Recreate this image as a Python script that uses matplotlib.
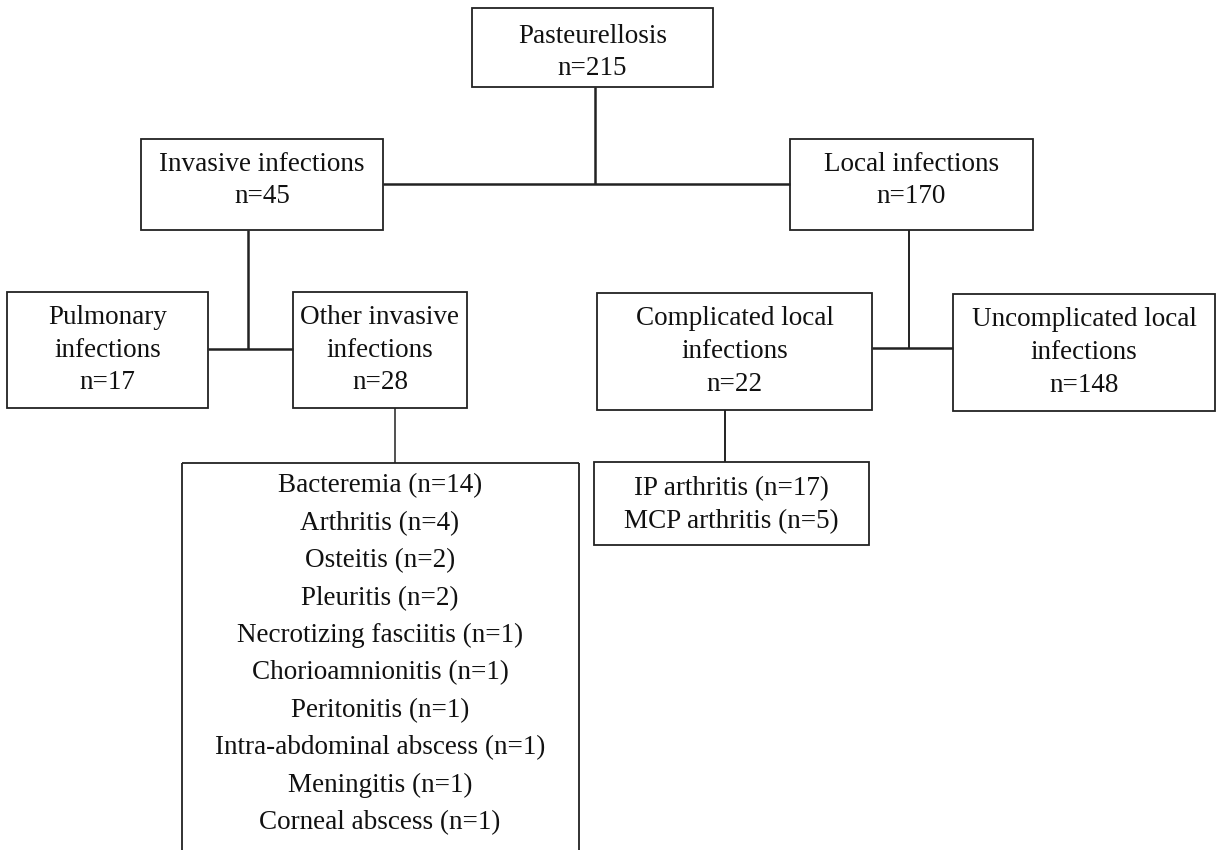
import matplotlib.pyplot as plt
from matplotlib.patches import Rectangle

plt.rcParams['font.family'] = ['Liberation Serif', 'DejaVu Serif']

# node names and counts
node_names = ["Pasteurellosis", "Invasive infections", "Local infections",
              "Pulmonary\ninfections", "Other invasive\ninfections",
              "Complicated local\ninfections", "Uncomplicated local\ninfections"]
node_counts = [215, 45, 170, 17, 28, 22, 148]

# detail lists
invasive_items = ["Bacteremia", "Arthritis", "Osteitis", "Pleuritis",
                  "Necrotizing fasciitis", "Chorioamnionitis", "Peritonitis",
                  "Intra-abdominal abscess", "Meningitis", "Corneal abscess"]
invasive_counts = [14, 4, 2, 2, 1, 1, 1, 1, 1, 1]
local_items = ["IP arthritis", "MCP arthritis"]
local_counts = [17, 5]

# box layout in pixels (x0, y0, x1, y1), y downwards; last value = text offset
boxes = [(472, 8, 713, 87, 5), (141, 139, 383, 230, -4), (790, 139, 1033, 230, -4),
         (7, 292, 208, 408, 0), (293, 292, 467, 408, 0),
         (597, 293, 872, 410, 0), (953, 294, 1215, 411, 0)]

fig = plt.figure(figsize=(12.22, 8.5), dpi=100)
ax = fig.add_axes([0, 0, 1, 1])
ax.set_xlim(0, 1222)
ax.set_ylim(850, 0)
ax.axis('off')

ec = '#222222'
fs = 19.5

def box(x0, y0, x1, y1):
    ax.add_patch(Rectangle((x0, y0), x1 - x0, y1 - y0, fill=False,
                           edgecolor=ec, lw=1.3))

def line(xs, ys, lw=1.8):
    ax.plot(xs, ys, color=ec, lw=lw, solid_capstyle='butt')

for (x0, y0, x1, y1, dy), name, n in zip(boxes, node_names, node_counts):
    box(x0, y0, x1, y1)
    ax.text((x0 + x1) / 2, (y0 + y1) / 2 + dy, f"{name}\nn={n}", ha='center',
            va='center', fontsize=fs, linespacing=1.42, color='#111111')

# connectors
line([595, 595], [87, 184])
line([383, 790], [184, 184])
line([248, 248], [230, 349])
line([208, 293], [349, 349])
line([909, 909], [230, 348], lw=1.4)
line([872, 953], [348, 348])
line([395, 395], [408, 463], lw=1.1)
line([725, 725], [410, 462], lw=1.4)

# invasive detail box (open at the bottom)
line([182, 182], [463, 860], lw=1.3)
line([579, 579], [463, 860], lw=1.3)
line([182, 579], [463, 463], lw=1.3)
for i, (item, n) in enumerate(zip(invasive_items, invasive_counts)):
    ax.text(380, 486 + i * 37.4, f"{item} (n={n})", ha='center', va='center',
            fontsize=fs, color='#111111')

# local detail box
box(594, 462, 869, 545)
ax.text(731, 505, "\n".join(f"{item} (n={n})" for item, n in zip(local_items, local_counts)),
        ha='center', va='center', fontsize=fs, linespacing=1.42, color='#111111')

fig.savefig("out.png", dpi=100, facecolor='white')
